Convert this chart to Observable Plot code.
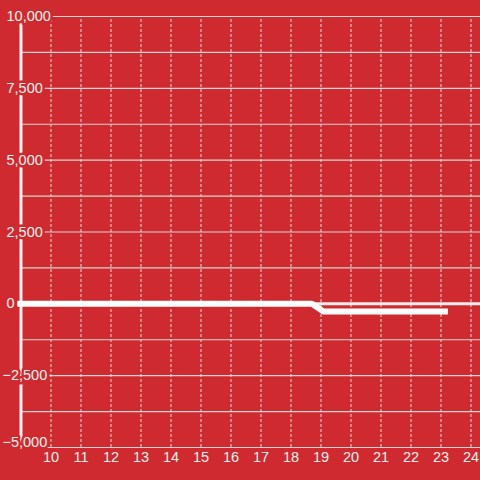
<!DOCTYPE html>
<html>
<head>
<meta charset="utf-8">
<script src="https://cdn.jsdelivr.net/npm/d3@7"></script>
<script src="https://cdn.jsdelivr.net/npm/@observablehq/plot@0.6"></script>
<style>
  html, body { margin: 0; padding: 0; background: #ce2a2f; }
  #chart { width: 480px; height: 480px; }
</style>
</head>
<body>
<div id="chart"></div>
<script>
// Data
const seriesAX = [8.88, 18.7, 19.08, 23.23];
const seriesAY = [0, 0, -270, -270];
const seriesBX = [8.88, 24.4];
const seriesBY = [0, 0];
const xTicks = [10, 11, 12, 13, 14, 15, 16, 17, 18, 19, 20, 21, 22, 23, 24];
const yTicks = [-5000, -2500, 0, 2500, 5000, 7500, 10000];
const yGrid = [-5000, -3750, -2500, -1250, 0, 1250, 2500, 3750, 5000, 6250, 7500, 8750, 10000];

const seriesA = seriesAX.map((x, i) => ({x, y: seriesAY[i]}));
const seriesB = seriesBX.map((x, i) => ({x, y: seriesBY[i]}));

const bg = "#ce2a2f";
const gridColor = "#d4d4d4";
const textColor = "#f6f0f0";
const fmt = d3.format(",");
const font = "'Liberation Sans', Arial, sans-serif";
const yMin = d3.min(yTicks);

const chart = Plot.plot({
  width: 480,
  height: 480,
  marginLeft: 0,
  marginRight: 0,
  marginTop: 16,
  marginBottom: 33,
  style: {background: bg, fontFamily: font, fontSize: "14.5px"},
  x: {domain: [8.317, 24.317], axis: null},
  y: {domain: [-5000, 10000], axis: null},
  marks: [
    Plot.ruleY(yGrid, {y: d => d, x1: 9, x2: 24.4, stroke: gridColor, strokeWidth: 1.2}),
    Plot.ruleX(xTicks, {x: d => d, y1: -5000, y2: 10000, stroke: "#e0dcdc", strokeWidth: 1, strokeDasharray: "3,2"}),
    Plot.ruleX([9], {x: d => d, y1: -5000, y2: 10000, stroke: "#f2f2f2", strokeWidth: 3}),
    Plot.line(seriesB, {x: "x", y: "y", stroke: "#eeeeee", strokeWidth: 3, strokeLinecap: "butt"}),
    Plot.line(seriesA, {x: "x", y: "y", stroke: "#ffffff", strokeWidth: 6, strokeLinejoin: "miter", strokeLinecap: "butt"}),
    Plot.text(yTicks.filter(d => d >= 0), {
      y: d => d, text: d => fmt(d), frameAnchor: "left", dx: 6, textAnchor: "start",
      fill: textColor, stroke: bg, strokeWidth: 5, fontSize: 14.5
    }),
    Plot.text(yTicks.filter(d => d < 0 && d > yMin), {
      y: d => d, text: d => fmt(d), frameAnchor: "left", dx: 2, textAnchor: "start",
      fill: textColor, stroke: bg, strokeWidth: 5, fontSize: 14.5
    }),
    Plot.text(yTicks.filter(d => d === yMin), {
      y: d => d, text: d => fmt(d), frameAnchor: "left", dx: 2, dy: -5, textAnchor: "start",
      fill: textColor, stroke: bg, strokeWidth: 5, fontSize: 14.5
    }),
    Plot.text(xTicks, {
      x: d => d, text: d => String(d), frameAnchor: "bottom", dy: 14,
      fill: textColor, fontSize: 14.5
    })
  ]
});
document.getElementById("chart").appendChild(chart);
</script>
</body>
</html>
